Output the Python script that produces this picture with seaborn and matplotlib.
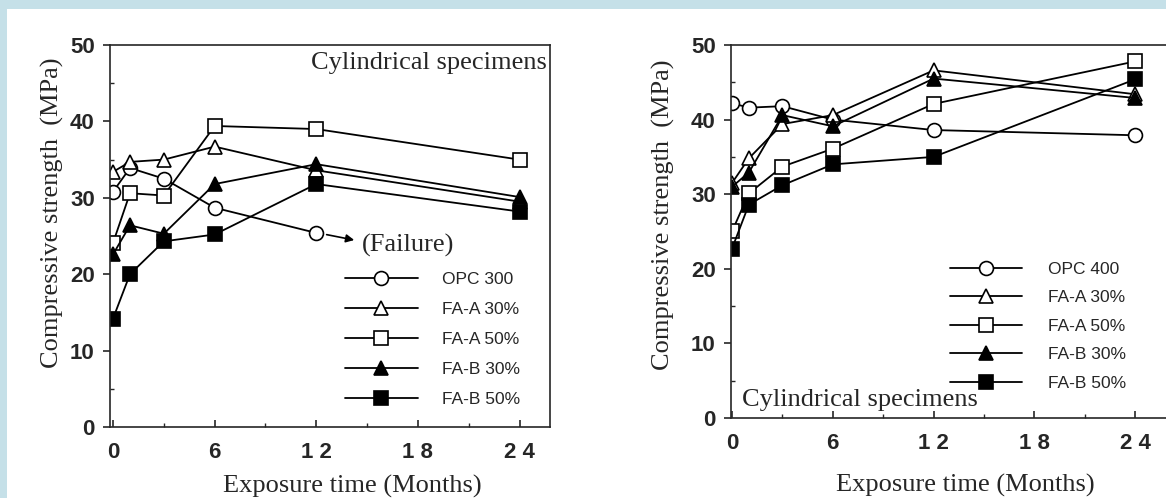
## Import Libraries
import numpy as np
import pandas as pd
import matplotlib.pyplot as plt
import seaborn as sns
from matplotlib.patches import Rectangle
from matplotlib.ticker import MultipleLocator, FixedLocator

## Data
months = [0, 1, 3, 6, 12, 24]
tick_months = [0, 6, 12, 18, 24]
tick_labels = ["0", "6", "1 2", "1 8", "2 4"]

labels_left = ["OPC 300", "FA-A 30%", "FA-A 50%", "FA-B 30%", "FA-B 50%"]
labels_right = ["OPC 400", "FA-A 30%", "FA-A 50%", "FA-B 30%", "FA-B 50%"]

# left panel (OPC 300 failed after 12 months)
opc300 = [30.8, 33.9, 32.5, 28.7, 25.4]
faa30_left = [33.4, 34.7, 35.0, 36.7, 33.6, 29.5]
faa50_left = [24.1, 30.6, 30.3, 39.4, 39.0, 35.0]
fab30_left = [22.6, 26.4, 25.3, 31.8, 34.4, 30.1]
fab50_left = [14.2, 20.0, 24.3, 25.2, 31.8, 28.2]

# right panel
opc400 = [42.2, 41.6, 41.8, 40.0, 38.6, 37.9]
faa30_right = [31.5, 34.8, 39.4, 40.6, 46.6, 43.4]
faa50_right = [25.0, 30.1, 33.7, 36.1, 42.1, 47.8]
fab30_right = [31.0, 32.9, 40.6, 39.1, 45.5, 42.9]
fab50_right = [22.7, 28.6, 31.2, 34.0, 35.0, 45.4]

markers = ["o", "^", "s", "^", "s"]
faces = ["white", "white", "white", "black", "black"]

## Style
sns.set_style("ticks")
plt.rcParams["font.family"] = ["Liberation Sans", "DejaVu Sans"]
serif = ["Liberation Serif", "DejaVu Serif"]

W, H = 1166, 498
fig = plt.figure(figsize=(W / 100, H / 100), dpi=100)
fig.patch.set_facecolor("white")

# light blue frame on top and left
blue = "#c5e0e8"
fig.add_artist(Rectangle((0, 1 - 9 / H), 1, 9 / H, transform=fig.transFigure,
                         facecolor=blue, edgecolor="none"))
fig.add_artist(Rectangle((0, 0), 7 / W, 1, transform=fig.transFigure,
                         facecolor=blue, edgecolor="none"))


def px_axes(left, right, top, bottom):
    return fig.add_axes([left / W, 1 - bottom / H, (right - left) / W, (bottom - top) / H])


def draw_panel(ax, series, names, xlim):
    for vals, name, m, fc in zip(series, names, markers, faces):
        sns.lineplot(x=months[:len(vals)], y=vals, ax=ax, color="black",
                     marker=m, markersize=10, markerfacecolor=fc,
                     markeredgecolor="black", markeredgewidth=1.2,
                     linewidth=1.3, label=name)
    ax.set_xlim(*xlim)
    ax.set_ylim(0, 50)
    ax.xaxis.set_major_locator(FixedLocator(tick_months))
    ax.set_xticklabels(tick_labels)
    ax.xaxis.set_minor_locator(FixedLocator([3, 9, 15, 21]))
    ax.yaxis.set_major_locator(MultipleLocator(10))
    ax.yaxis.set_minor_locator(MultipleLocator(5))
    ax.tick_params(axis="y", which="major", direction="out", length=5, width=1.2, pad=6)
    ax.tick_params(axis="y", which="minor", direction="in", length=3, width=1)
    ax.tick_params(axis="x", which="major", direction="in", length=5, width=1.2, pad=11)
    ax.tick_params(axis="x", which="minor", direction="in", length=3, width=1)
    for lab in ax.get_xticklabels() + ax.get_yticklabels():
        lab.set_fontsize(16)
        lab.set_fontweight("bold")
    for sp in ax.spines.values():
        sp.set_linewidth(1.2)
    ax.set_xlabel("Exposure time (Months)", family=serif, fontsize=19)
    ax.set_ylabel("Compressive strength  (MPa)", family=serif, fontsize=19)


## Left panel
ax1 = px_axes(110, 550, 45, 427)
draw_panel(ax1, [opc300, faa30_left, faa50_left, fab30_left, fab50_left],
           labels_left, (-0.18, 25.8))
ax1.text(25.6, 47.6, "Cylindrical specimens", family=serif, fontsize=19,
         ha="right", va="center")
ax1.annotate("", xy=(14.4, 24.4), xytext=(months[4] + 0.45, opc300[-1] - 0.15),
             arrowprops=dict(arrowstyle="-|>", color="black", lw=1.2, mutation_scale=12))
ax1.text(14.7, 23.8, "(Failure)", family=serif, fontsize=19, ha="left", va="center")
ax1.xaxis.set_label_coords(0.55, -0.125)
ax1.yaxis.set_label_coords(-0.105, 0.56)
ax1.legend(loc="upper left", bbox_to_anchor=(345 / W, 1 - 271.5 / H),
           bbox_transform=fig.transFigure, frameon=False, fontsize=12.5,
           handlelength=4.2, handletextpad=1.38, labelspacing=0.86,
           borderpad=0, borderaxespad=0)

## Right panel
ax2 = px_axes(731, 731 + 26.06 * 16.8, 45, 418)
draw_panel(ax2, [opc400, faa30_right, faa50_right, fab30_right, fab50_right],
           labels_right, (-0.06, 26.0))
ax2.spines["right"].set_visible(False)
ax2.text(0.6, 2.4, "Cylindrical specimens", family=serif, fontsize=19,
         ha="left", va="center")
ax2.xaxis.set_label_coords(0.535, -0.15)
ax2.yaxis.set_label_coords(-0.128, 0.545)
ax2.legend(loc="upper left", bbox_to_anchor=(950 / W, 1 - 261.5 / H),
           bbox_transform=fig.transFigure, frameon=False, fontsize=12.5,
           handlelength=4.15, handletextpad=1.5, labelspacing=0.77,
           borderpad=0, borderaxespad=0)

plt.savefig("out.png", dpi=100, facecolor=fig.get_facecolor())
